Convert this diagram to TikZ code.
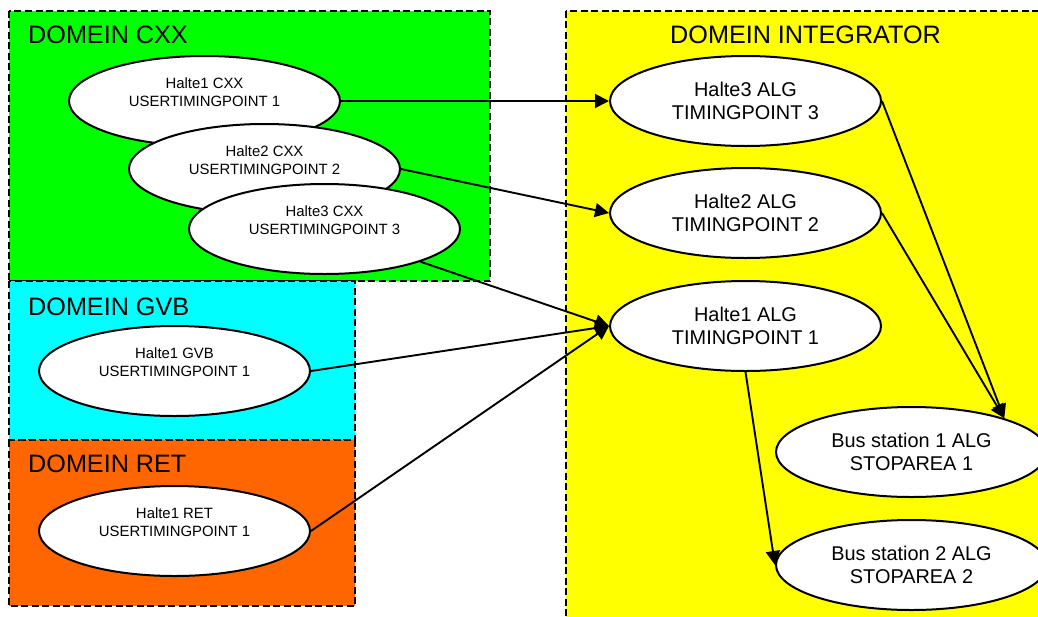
\documentclass[tikz,border=0pt]{standalone}
\usepackage{fontspec}
\setmainfont{Liberation Sans}
\usetikzlibrary{shapes.geometric,arrows.meta}
\definecolor{domgreen}{HTML}{00FF00}
\definecolor{domcyan}{HTML}{00FFFF}
\definecolor{domorange}{HTML}{FF6600}
\definecolor{domyellow}{HTML}{FFFF00}
\tikzset{
  px/.style={x=1pt,y=-1pt},
  domainbox/.style={draw=black,line width=2pt,dash pattern=on 7pt off 3.5pt},
  domtitle/.style={font=\fontsize{25.2}{29}\selectfont,anchor=west,inner sep=0pt},
  smallstop/.style={draw=black,fill=white,ellipse,line width=2pt,inner sep=0pt,minimum width=271pt,minimum height=90pt,align=center,font=\fontsize{14.9}{18}\selectfont},
  bigstop/.style={draw=black,fill=white,ellipse,line width=2pt,inner sep=0pt,minimum width=271pt,minimum height=90pt,align=center,font=\fontsize{19.9}{23.5}\selectfont},
  conn/.style={draw=black,line width=1.9pt,-{Triangle[length=14pt,width=14pt]}}
}
\begin{document}
\begin{tikzpicture}[px]
\useasboundingbox (0,0) rectangle (1038,616);
\clip (0,0) rectangle (1038,616);
\fill[white] (0,0) rectangle (1038,616);
% domains
\path[domainbox,fill=domyellow] (565.5,10.5) rectangle (1060,640);
\path[domainbox,fill=domgreen] (8.5,10.5) rectangle (490,281);
\path[domainbox,fill=domcyan] (8.5,281) rectangle (355,440);
\path[domainbox,fill=domorange] (8.5,440) rectangle (355,606);
% titles
\node[domtitle] (tcxx) at (28,34.5) {DOMEIN CXX};
\node[domtitle] (tgvb) at (28,306.5) {DOMEIN GVB};
\node[domtitle] (tret) at (28,463.5) {DOMEIN RET};
\node[domtitle] (tint) at (670,34.5) {DOMEIN INTEGRATOR};
% source stops
\node[smallstop] (c1) at (204.5,101) {Halte1 CXX\\USERTIMINGPOINT 1\\\mbox{}};
\node[smallstop] (c2) at (264.5,169) {Halte2 CXX\\USERTIMINGPOINT 2\\\mbox{}};
\node[smallstop] (c3) at (324.5,229) {Halte3 CXX\\USERTIMINGPOINT 3\\\mbox{}};
\node[smallstop] (g1) at (174.5,371) {Halte1 GVB\\USERTIMINGPOINT 1\\\mbox{}};
\node[smallstop] (r1) at (174.5,531) {Halte1 RET\\USERTIMINGPOINT 1\\\mbox{}};
% integrator stops
\node[bigstop] (a3) at (745.5,101) {Halte3 ALG\\TIMINGPOINT 3};
\node[bigstop] (a2) at (745.5,213) {Halte2 ALG\\TIMINGPOINT 2};
\node[bigstop] (a1) at (745.5,326) {Halte1 ALG\\TIMINGPOINT 1};
\node[bigstop] (b1) at (911.5,452) {Bus station 1 ALG\\STOPAREA 1};
\node[bigstop] (b2) at (911.5,565) {Bus station 2 ALG\\STOPAREA 2};
% connectors
\draw[conn] (c1.east) -- (a3.west);
\draw[conn] (c2.east) -- (a2.west);
\draw[conn] (c3) -- (a1.west);
\draw[conn] (g1.east) -- (a1.west);
\draw[conn] (r1.east) -- (a1.west);
\draw[conn] (a3.east) -- (b1.20);
\draw[conn] (a2.east) -- (b1.20);
\draw[conn] (a1.south) -- (b2.west);
\end{tikzpicture}
\end{document}
